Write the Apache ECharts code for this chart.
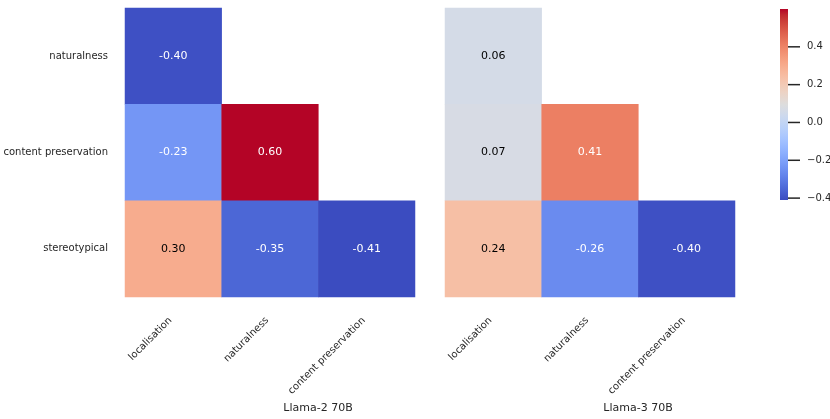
<!DOCTYPE html>
<html lang="en">
<head>
    <meta charset="UTF-8">
    <title>Llama correlations</title>
    <style>
        html, body { margin: 0; padding: 0; background: #fff; }
    </style>
</head>
<body>
<div id="chartBox" style="width: 830px;height: 419px;"></div>
<script type="text/javascript" src="https://cdn.jsdelivr.net/npm/echarts@6/dist/echarts.min.js"></script>
<script type="text/javascript">
    // categories
    var xCats = ['localisation', 'naturalness', 'content preservation'];
    var yCats = ['naturalness', 'content preservation', 'stereotypical'];
    var panelTitles = ['Llama-2 70B', 'Llama-3 70B'];

    // lower triangle values, one row per yCats entry
    var llama2 = [
        [-0.40],
        [-0.23, 0.60],
        [0.30, -0.35, -0.41]
    ];
    var llama3 = [
        [0.06],
        [0.07, 0.41],
        [0.24, -0.26, -0.40]
    ];

    // colour bar range and ticks
    var vMin = -0.41, vMax = 0.60;
    var barTicks = [-0.4, -0.2, 0.0, 0.2, 0.4];

    // coolwarm, 33 evenly spaced stops
    var coolwarm = [
        [59,76,192],[68,90,204],[77,104,215],[87,117,225],[98,130,234],[108,142,241],
        [119,154,247],[130,165,251],[141,176,254],[152,185,255],[163,194,255],[174,201,253],
        [184,208,249],[194,213,244],[204,217,238],[213,219,230],[221,221,221],[229,216,209],
        [236,211,197],[241,204,185],[245,196,173],[247,187,160],[247,177,148],[247,166,135],
        [244,154,123],[241,141,111],[236,127,99],[229,112,88],[222,96,77],[213,80,66],
        [203,62,56],[192,40,47],[180,4,38]
    ].map(function (c) { return 'rgb(' + c.join(',') + ')'; });

    var FONT = 'DejaVu Sans';
    var TXT = '#262626';

    function toCells(rows) {
        var out = [];
        rows.forEach(function (row, yi) {
            row.forEach(function (v, xi) {
                var dark = v < -0.1 || v > 0.35;
                out.push({
                    value: [xi, yi, v],
                    label: { color: dark ? '#ffffff' : '#000000' }
                });
            });
        });
        return out;
    }

    var myChart = echarts.init(document.getElementById('chartBox'), null, { renderer: 'canvas' });

    var gridLefts = [125, 445];
    var grids = gridLefts.map(function (l) {
        return { left: l, top: 8, width: 290, height: 289, outerBoundsMode: 'none' };
    });
    grids.push({ left: 780, top: 9, width: 8, height: 191, outerBoundsMode: 'none' });

    var xAxes = [0, 1].map(function (i) {
        return {
            type: 'category', gridIndex: i, data: xCats,
            axisLine: { show: false }, axisTick: { show: false },
            splitArea: { show: false },
            axisLabel: {
                interval: 0, rotate: 45, margin: 19, padding: [0, 4, 0, 0],
                fontFamily: FONT, fontSize: 10, color: TXT
            }
        };
    });
    xAxes.push({ type: 'value', gridIndex: 2, show: false, min: 0, max: 1 });

    var yAxes = [0, 1].map(function (i) {
        return {
            type: 'category', gridIndex: i, data: yCats, inverse: true,
            axisLine: { show: false }, axisTick: { show: false },
            axisLabel: {
                show: i === 0, margin: 17,
                fontFamily: FONT, fontSize: 10, color: TXT
            }
        };
    });
    yAxes.push({
        type: 'value', gridIndex: 2, position: 'right', min: vMin, max: vMax,
        axisLine: { show: false }, splitLine: { show: false }, axisTick: { show: false },
        axisLabel: {
            customValues: barTicks, margin: 19,
            fontFamily: FONT, fontSize: 10, color: TXT,
            formatter: function (v) { return v.toFixed(1).replace('-', '\u2212'); }
        }
    });

    var series = [llama2, llama3].map(function (rows, i) {
        return {
            type: 'heatmap', xAxisIndex: i, yAxisIndex: i,
            data: toCells(rows),
            itemStyle: { borderWidth: 0 },
            emphasis: { disabled: true },
            label: {
                show: true, fontFamily: FONT, fontSize: 11,
                formatter: function (p) { return p.value[2].toFixed(2); }
            }
        };
    });

    // colour bar body: square-ended gradient spanning vMin..vMax on its axis
    var gradStops = coolwarm.map(function (c, i) {
        return { offset: i / (coolwarm.length - 1), color: c };
    });
    series.push({
        type: 'custom', xAxisIndex: 2, yAxisIndex: 2, clip: false, silent: true,
        data: [[0, vMin, 1, vMax]],
        renderItem: function (params, api) {
            var a = api.coord([api.value(0), api.value(3)]);
            var b = api.coord([api.value(2), api.value(1)]);
            return {
                type: 'rect',
                shape: { x: a[0], y: a[1], width: b[0] - a[0], height: b[1] - a[1] },
                style: { fill: new echarts.graphic.LinearGradient(0, 1, 0, 0, gradStops) }
            };
        }
    });

    // colour bar tick marks, placed through the bar's value axis
    series.push({
        type: 'custom', xAxisIndex: 2, yAxisIndex: 2, clip: false, silent: true,
        data: barTicks.map(function (v) { return [1, v]; }),
        renderItem: function (params, api) {
            var p = api.coord([1, api.value(1)]);
            return {
                type: 'line',
                shape: { x1: p[0], y1: p[1], x2: p[0] + 12, y2: p[1] },
                style: { stroke: TXT, lineWidth: 1.5 }
            };
        }
    });

    myChart.setOption({
        animation: false,
        textStyle: { fontFamily: FONT },
        grid: grids,
        xAxis: xAxes,
        yAxis: yAxes,
        visualMap: {
            type: 'continuous', seriesIndex: [0, 1], show: false,
            min: vMin, max: vMax,
            inRange: { color: coolwarm }
        },
        graphic: [318, 638].map(function (x, i) {
            return {
                type: 'text', x: x, y: 408,
                style: {
                    text: panelTitles[i], fontFamily: FONT, fontSize: 11, fill: TXT,
                    textAlign: 'center', textVerticalAlign: 'middle'
                }
            };
        }),
        series: series
    });
</script>
</body>
</html>
